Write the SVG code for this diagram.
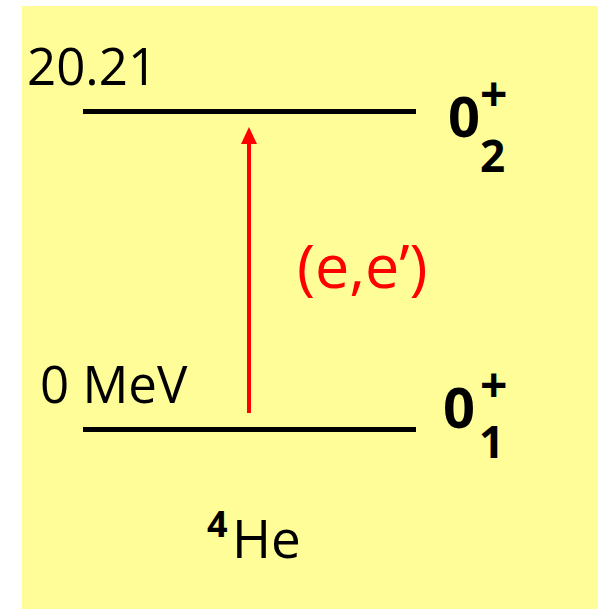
<svg xmlns="http://www.w3.org/2000/svg" width="598" height="609" viewBox="0 0 598 609">
<defs>
<style>
.t{font-family:"Open Sans","DejaVu Sans",sans-serif;fill:#000}
.b{font-weight:bold}
.lvl{stroke:#000;stroke-width:5;fill:none}
</style>
</defs>
<rect x="22" y="6" width="576" height="603" fill="#FFFD98"/>
<g id="connectors">
<line x1="249" y1="413" x2="249" y2="143" stroke="#FF0000" stroke-width="4"/>
<path d="M249 127 L257 144 L241 144 Z" fill="#FF0000"/>
</g>
<g id="level-upper">
<line class="lvl" x1="83" y1="111.5" x2="416" y2="111.5"/>
<text class="t" x="27" y="85" font-size="51">20.21</text>
<text class="t b" x="448" y="137" font-size="56">0</text>
<text class="t b" x="480" y="111" font-size="48">+</text>
<text class="t b" x="480" y="172" font-size="44">2</text>
</g>
<g id="level-ground">
<line class="lvl" x1="83" y1="429.5" x2="416" y2="429.5"/>
<text class="t" x="40" y="403" font-size="51">0 MeV</text>
<text class="t b" x="443" y="428" font-size="56">0</text>
<text class="t b" x="480" y="402" font-size="48">+</text>
<text class="t b" x="479" y="458" font-size="44">1</text>
</g>
<g id="label-ee">
<text class="t" x="297" y="288" font-size="61" style="fill:#FF0000">(e,e’)</text>
</g>
<g id="nucleus">
<text class="t b" x="207" y="537" font-size="36">4</text>
<text class="t" x="232" y="558" font-size="53">He</text>
</g>
</svg>
